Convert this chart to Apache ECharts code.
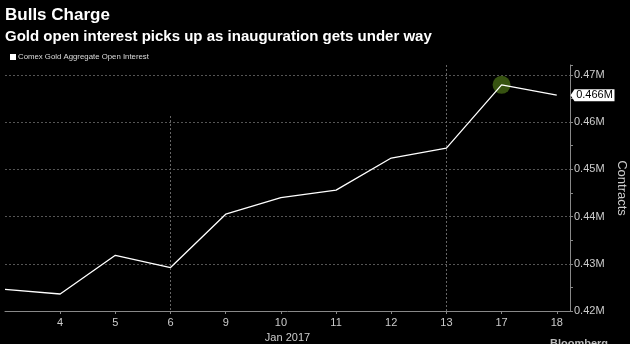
<!DOCTYPE html>
<html>
<head>
<meta charset="utf-8">
<script src="https://cdn.jsdelivr.net/npm/echarts@6/dist/echarts.min.js"></script>
<style>
html,body{margin:0;padding:0;background:#000;}
#chart{width:630px;height:344px;}
</style>
</head>
<body>
<div id="chart"></div>
<script>
var titleText = 'Bulls Charge';
var subtitleText = 'Gold open interest picks up as inauguration gets under way';
var seriesName = 'Comex Gold Aggregate Open Interest';
var days = ['3', '4', '5', '6', '9', '10', '11', '12', '13', '17', '18'];
var openInterestM = [0.4246, 0.4236, 0.4318, 0.4292, 0.4405, 0.4440, 0.4456, 0.4524, 0.4545, 0.4679, 0.4657];
var yTicks = [0.42, 0.43, 0.44, 0.45, 0.46, 0.47];
var weekStartDays = ['6', '13'];
var highlightDay = '17';
var lastLabel = '0.466M';

var xMax = 10.24;
var yMin = 0.42, yMax = 0.4721;

var lineData = openInterestM.map(function (v, i) { return [i, v]; });
var hi = days.indexOf(highlightDay);
var lastIdx = days.length - 1;

var chart = echarts.init(document.getElementById('chart'), null, {renderer: 'canvas'});
chart.setOption({
  backgroundColor: '#000',
  animation: false,
  title: [
    {text: titleText, left: 5, top: 7, padding: 0, textStyle: {color: '#fff', fontFamily: 'Liberation Sans', fontWeight: 'bold', fontSize: 17}},
    {text: subtitleText, left: 5, top: 29, padding: 0, textStyle: {color: '#fff', fontFamily: 'Liberation Sans', fontWeight: 'bold', fontSize: 15}}
  ],
  legend: {
    left: 10, top: 53, padding: 0, itemWidth: 6, itemHeight: 6, itemGap: 4, icon: 'rect',
    textStyle: {color: '#ddd', fontFamily: 'Liberation Sans', fontSize: 7.8, padding: [0,0,0,-3]},
    data: [{name: seriesName, itemStyle: {color: '#fff'}}]
  },
  grid: {left: 5, right: 60, top: 65, bottom: 33, containLabel: false, outerBoundsMode: 'none'},
  xAxis: {
    type: 'value', min: 0, max: xMax, interval: 1,
    name: 'Jan 2017', nameLocation: 'middle', nameGap: 21,
    nameTextStyle: {color: '#ccc', fontFamily: 'Liberation Sans', fontSize: 11},
    axisLine: {show: true, onZero: false, lineStyle: {color: '#888', width: 1}},
    axisTick: {show: true, length: 3, lineStyle: {color: '#888'}},
    axisLabel: {
      color: '#ccc', fontFamily: 'Liberation Sans', fontSize: 11, margin: 6,
      showMinLabel: false, showMaxLabel: false,
      formatter: function (v) { return (Number.isInteger(v) && days[v] !== undefined) ? days[v] : ''; }
    },
    splitLine: {show: false}
  },
  yAxis: {
    type: 'value', position: 'right', min: yMin, max: yMax, interval: 0.01,
    name: 'Contracts', nameLocation: 'middle', nameGap: 44, nameRotate: -90,
    nameTextStyle: {color: '#ccc', fontFamily: 'Liberation Sans', fontSize: 13},
    axisLine: {show: true, onZero: false, lineStyle: {color: '#888', width: 1}},
    axisTick: {show: true, length: 3, lineStyle: {color: '#888'}},
    minorTick: {show: true, splitNumber: 2, length: 3, lineStyle: {color: '#888'}},
    axisLabel: {
      color: '#ccc', fontFamily: 'Liberation Sans', fontSize: 11, margin: 4,
      showMaxLabel: false,
      formatter: function (v) { var r = Math.round(v * 100) / 100; return (Math.abs(v - r) < 1e-9 && yTicks.indexOf(r) >= 0) ? r.toFixed(2) + 'M' : ''; }
    },
    splitLine: {show: true, showMaxLine: false, showMinLine: false, lineStyle: {color: '#555', type: [2, 2], width: 1}}
  },
  series: [
    {
      type: 'scatter', z: 1,
      data: [[hi, openInterestM[hi]]],
      symbolSize: 18,
      itemStyle: {color: '#3a5712', opacity: 0.95},
      silent: true
    },
    {
      name: seriesName, type: 'line', z: 3,
      data: lineData,
      showSymbol: false, symbol: 'none',
      lineStyle: {color: '#fff', width: 1.3},
      itemStyle: {color: '#fff'},
      markLine: {
        silent: true, symbol: 'none', label: {show: false},
        lineStyle: {color: '#666', type: [2, 2], width: 1},
        data: [
          [{coord: [days.indexOf(weekStartDays[0]), 0.4613]}, {coord: [days.indexOf(weekStartDays[0]), yMin]}],
          [{coord: [days.indexOf(weekStartDays[1]), yMax]}, {coord: [days.indexOf(weekStartDays[1]), yMin]}]
        ]
      },
      markPoint: {
        silent: true,
        data: [{
          coord: [xMax, openInterestM[lastIdx]],
          symbol: 'path://M0,6 L4,0 L44,0 L44,12 L4,12 L0,6 Z',
          symbolSize: [44, 12],
          symbolKeepAspect: false,
          symbolOffset: [22.5, 0],
          itemStyle: {color: '#fff'},
          label: {show: true, formatter: lastLabel, color: '#000', fontFamily: 'Liberation Sans', fontSize: 11, offset: [2, 0]}
        }]
      }
    }
  ],
  graphic: [
    {type: 'text', left: 550, top: 338, style: {text: 'Bloomberg', fill: '#bbb', font: 'bold 11px Liberation Sans'}}
  ]
});
</script>
</body>
</html>
